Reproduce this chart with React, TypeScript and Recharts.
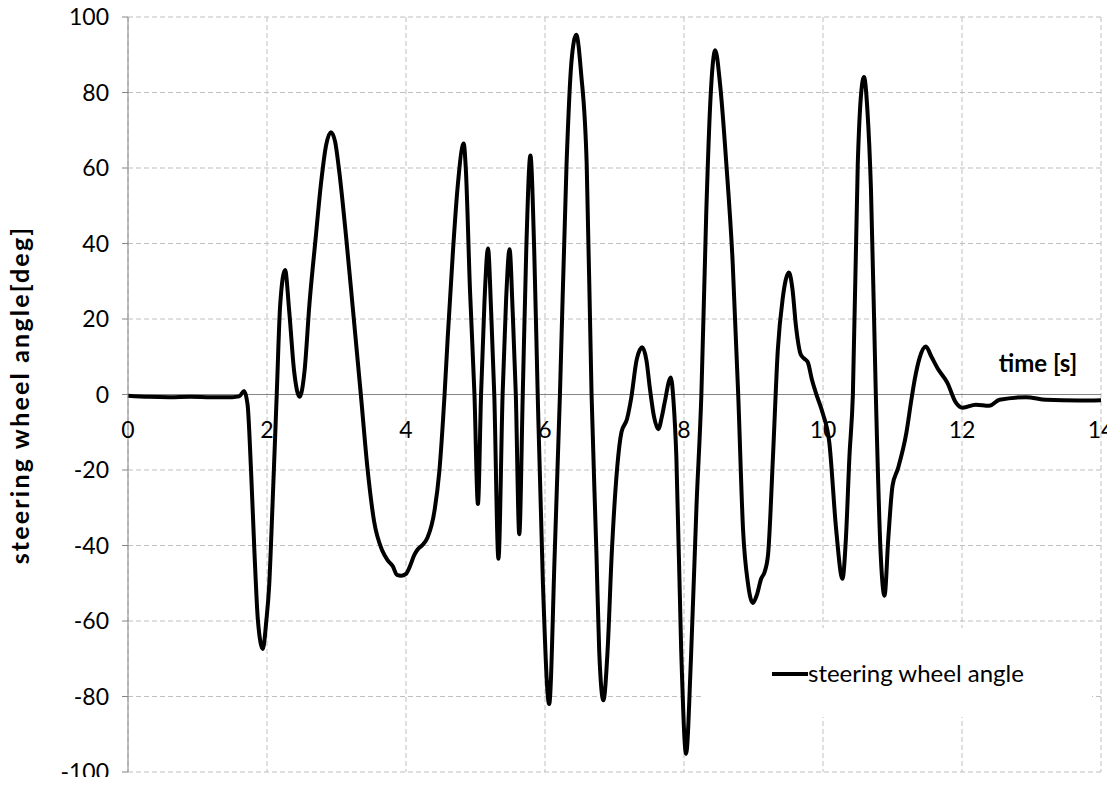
import React from 'react';
import {
  LineChart,
  Line,
  XAxis,
  YAxis,
  CartesianGrid,
  Legend,
  ReferenceLine,
  Label,
} from 'recharts';

// time [s]
const TIME = [
  0, 0.3, 0.6, 0.9, 1.2, 1.5, 1.6, 1.67, 1.72, 1.77, 1.82, 1.87, 1.94, 1.99, 2.03, 2.08,
  2.14, 2.19, 2.26, 2.32, 2.39, 2.47, 2.54, 2.61, 2.7, 2.78, 2.85, 2.92, 2.98, 3.04,
  3.14, 3.23, 3.35, 3.45, 3.54, 3.66, 3.74, 3.81, 3.87, 3.93, 4.0, 4.05, 4.12, 4.17,
  4.24, 4.31, 4.41, 4.48, 4.555, 4.6, 4.675, 4.745, 4.83, 4.86, 4.92, 4.985, 5.035,
  5.08, 5.13, 5.18, 5.225, 5.27, 5.33, 5.39, 5.44, 5.49, 5.535, 5.58, 5.63, 5.68, 5.73,
  5.79, 5.845, 5.895, 5.97, 6.06, 6.14, 6.215, 6.31, 6.38, 6.45, 6.52, 6.6, 6.67, 6.74,
  6.78, 6.84, 6.9, 6.96, 7.04, 7.1, 7.18, 7.24, 7.32, 7.4, 7.46, 7.51, 7.57, 7.63, 7.68,
  7.72, 7.81, 7.85, 7.89, 7.96, 8.03, 8.1, 8.18, 8.25, 8.32, 8.38, 8.45, 8.52, 8.61,
  8.7, 8.78, 8.85, 8.92, 8.99, 9.05, 9.11, 9.16, 9.21, 9.28, 9.35, 9.42, 9.51, 9.56,
  9.61, 9.68, 9.73, 9.78, 9.84, 9.9, 9.995, 10.09, 10.19, 10.28, 10.33, 10.38, 10.43,
  10.5, 10.55, 10.59, 10.64, 10.69, 10.76, 10.83, 10.885, 10.94, 11.0, 11.08, 11.2,
  11.27, 11.32, 11.39, 11.48, 11.56, 11.65, 11.79, 11.91, 12.01, 12.2, 12.39, 12.54,
  12.92, 13.21, 13.68, 14.0,
];

// steering wheel angle [deg]
const ANGLE = [
  -0.3, -0.6, -0.7, -0.6, -0.7, -0.7, -0.5, 0.9, -2.6, -20, -42, -60, -67.4, -60, -51, -29,
  0, 23.8, 33, 22, 6.2, -0.6, 6.2, 23.8, 41.4, 56.4, 66, 69.5, 67, 59,
  41.4, 23.8, 0, -20.3, -33.5, -41.4, -44, -45.5, -47.8, -48, -47.5, -45.8, -42.5, -41,
  -39.8, -37.9, -30.8, -20.3, 0, 15, 37.8, 55.4, 66.5, 60, 28, 0, -29,
  0, 25, 38.7, 22, 0, -43.5, 0, 25, 38.5, 22, 0, -37, 0, 38,
  63.3, 38, 0, -50, -82, -42, 0, 61, 88, 95.3, 85, 60.9, 0, -42,
  -68, -81, -68, -42.3, -19.1, -10, -6.5, -1, 9.3, 12.5, 9, 1.5, -6, -9.2, -6,
  -2.3, 4.5, -2, -16.5, -68, -95.2, -70, -29.4, 0, 48, 78, 91.2, 82, 60.9,
  35.1, 0, -35.9, -50, -55.2, -53, -48.8, -47, -42.3, -16.5, 11.9, 25.4, 32.3, 28,
  18.3, 10.6, 9.5, 8.6, 4, 0.3, -4.9, -12.6, -35.9, -48.8, -38, -16.5, 0,
  60.9, 80, 84.1, 75, 54.5, 0, -42.3, -53.3, -38, -24.2, -19.5, -10.1,
  -1.6, 4, 9.7, 12.7, 10, 6.9, 3.1, -2.1, -3.5, -2.7, -3, -1.4,
  -0.7, -1.4, -1.6, -1.5,
];

const X_TICKS = [0, 2, 4, 6, 8, 10, 12, 14];
const Y_TICKS = [-100, -80, -60, -40, -20, 0, 20, 40, 60, 80, 100];

const SERIES_NAME = 'steering wheel angle';
const Y_TITLE = 'steering wheel angle[deg]';
const X_TITLE = 'time  [s]';

const data = TIME.map((t, i) => ({ t, angle: ANGLE[i] }));

// chart covers the whole page (body margin cancelled)
const W = 1115;
const H = 785;
const M = { top: 17, right: 14, bottom: 12, left: 8 };
const Y_AXIS_W = 120;
const PLOT_H = H - M.top - M.bottom;
const ZERO_Y = M.top + PLOT_H / 2;

const FONT = 'Lato, "Open Sans", sans-serif';
const AXIS = '#868686';
const FS = 23;

const XTick = (props: any) => {
  const { x, payload } = props;
  return (
    <text x={x} y={ZERO_Y + 34} textAnchor="middle" dominantBaseline="central" fontFamily={FONT} fontSize={FS} fill="#000">
      {payload.value}
    </text>
  );
};

const LegendBox = () => (
  <div
    style={{
      width: 389,
      height: 89,
      background: '#fff',
      position: 'relative',
      fontFamily: FONT,
    }}
  >
    <span
      style={{ position: 'absolute', left: 69, top: 44, width: 36, height: 4, background: '#000' }}
    />
    <span
      style={{ position: 'absolute', left: 105, top: 30, fontSize: 24, lineHeight: '30px', color: '#000', whiteSpace: 'nowrap' }}
    >
      {SERIES_NAME}
    </span>
  </div>
);

export default function App() {
  return (
    <div style={{ margin: -8, width: W, height: H }}>
      <LineChart width={W} height={H} data={data} margin={M}>
        <CartesianGrid stroke="#bfbfbf" strokeDasharray="5 3" />
        <XAxis
          type="number"
          dataKey="t"
          domain={[0, 14]}
          ticks={X_TICKS}
          axisLine={false}
          tickLine={false}
          height={1}
          tick={<XTick />}
          interval={0}
        >
          <Label
            content={() => (
              <text x={1038} y={362} textAnchor="middle" dominantBaseline="central" fontFamily={FONT} fontSize={24} fontWeight="bold" fill="#000">
                {X_TITLE}
              </text>
            )}
          />
        </XAxis>
        <YAxis
          type="number"
          domain={[-100, 100]}
          ticks={Y_TICKS}
          width={Y_AXIS_W}
          stroke={AXIS}
          tickSize={6}
          tickMargin={13}
          interval={0}
          tick={{ fill: '#000', fontSize: FS, fontFamily: FONT }}
        >
          <Label
            content={() => (
              <text
                x={19}
                y={ZERO_Y}
                transform={`rotate(-90, 19, ${ZERO_Y})`}
                textAnchor="middle"
                dominantBaseline="central"
                fontFamily={FONT}
                fontSize={25}
                letterSpacing={2.2}
                fontWeight="bold"
                fill="#000"
              >
                {Y_TITLE}
              </text>
            )}
          />
        </YAxis>
        <ReferenceLine y={0} stroke={AXIS} strokeWidth={1} />
        <Legend
          layout="horizontal"
          verticalAlign="middle"
          align="center"
          content={<LegendBox />}
          wrapperStyle={{ position: 'absolute', left: 703, top: 628, width: 389, height: 89 }}
        />
        <Line
          type="monotone"
          dataKey="angle"
          name={SERIES_NAME}
          stroke="#000"
          strokeWidth={4}
          dot={false}
          activeDot={false}
          isAnimationActive={false}
        />
      </LineChart>
    </div>
  );
}
